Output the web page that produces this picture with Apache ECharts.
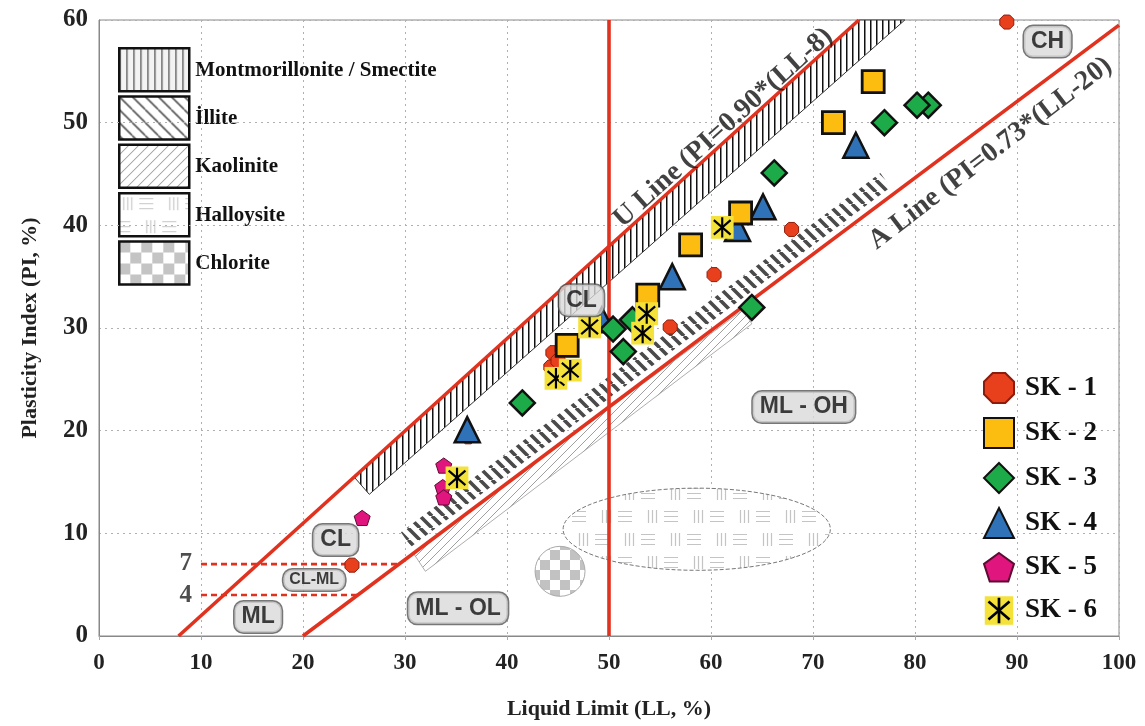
<!DOCTYPE html>
<html><head><meta charset="utf-8">
<script src="https://cdn.jsdelivr.net/npm/echarts@6/dist/echarts.min.js"></script>
<style>html,body{margin:0;padding:0;background:#fff}#c{width:1145px;height:726px}</style>
</head><body><div id="c"></div>
<script>
// ---------------- data ----------------
const seriesNames = ['SK - 1','SK - 2','SK - 3','SK - 4','SK - 5','SK - 6'];
const sk1 = [[89.0,59.8],[67.9,39.6],[60.3,35.2],[56.0,30.1],[44.5,27.6],[45.4,28.0],[44.3,26.2],[45.0,26.8],[36.2,19.4],[24.8,6.9]];
const sk2 = [[75.9,54.0],[72.0,50.0],[62.9,41.2],[58.0,38.1],[53.8,33.2],[45.9,28.3]];
const sk3 = [[81.3,51.7],[80.2,51.7],[77.0,50.0],[66.2,45.1],[64.0,32.0],[52.3,30.8],[50.4,29.9],[51.4,27.7],[41.5,22.7]];
const sk4 = [[74.2,47.8],[65.1,41.8],[62.6,39.7],[56.2,35.0],[49.3,30.8],[36.1,20.1]];
const sk5 = [[25.8,11.5],[33.8,16.6],[33.7,14.5],[33.8,13.5]];
const sk6 = [[35.1,15.4],[44.8,25.1],[46.2,25.9],[48.1,30.1],[53.3,29.5],[53.7,31.4],[61.1,39.8]];

const uLine = [[7.8,0],[74.5,60]];
const aLine = [[20,0],[100,59.5]];
const llLine = [[50,0],[50,60]];
const pi7Line = [[10,7],[29.4,7]];
const pi4Line = [[10,4],[25.4,4]];

const montBand = [[25.0,15.5],[74.5,60],[79.0,60],[26.5,13.8]];
const illiteBand = [[29.6,10.1],[76.6,45.1],[77.6,43.7],[30.6,8.7]];
const kaolBand = [[30.8,8.1],[63.2,31.8],[64.0,30.4],[32.0,6.3]];
const halloEllipse = [58.6,10.4,13.1,4.0];   // centre LL, centre PI, half-width LL, half-height PI
const chloriteCircle = [45.2,6.3,2.45];      // centre LL, centre PI, radius LL

const zoneLabels = [['CH',93.0,57.9],['CL',47.3,32.7],['ML - OH',69.1,22.3],['CL',23.2,9.35],['CL-ML',21.1,5.45],['ML',15.6,1.85],['ML - OL',35.2,2.7]];
const lineLabels = [['U Line (PI=0.90*(LL-8)',61.2,49.5,42],['A Line (PI=0.73*(LL-20)',87.4,47.0,37.5]];
const sideTicks = [['7',8.5,7.1],['4',8.5,3.9]];
const mineralNames = ['Montmorillonite / Smectite','İllite','Kaolinite','Halloysite','Chlorite'];

// ---------------- patterns ----------------
function pattern(w,h,draw){const c=document.createElement('canvas');c.width=w;c.height=h;const g=c.getContext('2d');draw(g);return {image:c,repeat:'repeat'};}
const vLines=(w,col,lw,bg)=>pattern(w,w,g=>{g.fillStyle=bg;g.fillRect(0,0,w,w);g.fillStyle=col;g.fillRect(0,0,lw,w);});
const diag=(w,col,lw,back,bg)=>pattern(w,w,g=>{g.fillStyle=bg;g.fillRect(0,0,w,w);g.strokeStyle=col;g.lineWidth=lw;g.beginPath();
  for(let k=-1;k<=1;k++){if(back){g.moveTo(k*w,0);g.lineTo(k*w+w,w);}else{g.moveTo(k*w,w);g.lineTo(k*w+w,0);}}g.stroke();});
const hallo=(col)=>pattern(46,46,g=>{g.fillStyle='#fff';g.fillRect(0,0,46,46);g.strokeStyle=col;g.lineWidth=1.2;g.beginPath();
  const block=(x0,y0,vert)=>{for(let s=0;s<3;s++){if(vert){const x=x0+1.5+s*4;g.moveTo(x,y0);g.lineTo(x,y0+13);}else{const y=y0+1.5+s*5;g.moveTo(x0,y);g.lineTo(x0+14,y);}}};
  for(const dx of [-46,0,46]){block(dx+3,4,true);block(dx+20,4,false);block(dx+26,27,true);block(dx+43,27,false);}
  g.stroke();});
const checker=(s,col)=>pattern(2*s,2*s,g=>{g.fillStyle='#fff';g.fillRect(0,0,2*s,2*s);g.fillStyle=col;g.fillRect(0,0,s,s);g.fillRect(s,s,s,s);});

const pMont = vLines(6,'#111',1.5,'#fff');
const pIll = diag(12,'#4a4a4a',3.6,true,'#fff');
const pKao = diag(9,'#888',0.8,false,'#fff');
const pHal = hallo('#c4c4c4');
const pChl = checker(10,'#c2c2c2');
const legendPatterns = [vLines(7,'#555',1.3,'#f3f3f3'), diag(13,'#555',1.6,true,'#fff'), diag(10,'#777',0.9,false,'#fff'), hallo('#c8c8c8'), checker(11,'#c4c4c4')];

// ---------------- symbols ----------------
const octagon = 'path://M29,0 L71,0 L100,29 L100,71 L71,100 L29,100 L0,71 L0,29 Z';
const pentagon = 'path://M50,0 L97.6,34.5 L79.4,90.5 L20.6,90.5 L2.4,34.5 Z';
const starSvg = "<svg xmlns='http://www.w3.org/2000/svg' width='40' height='40' viewBox='0 0 40 40'><rect x='1' y='1' width='38' height='38' fill='#f4e23a'/><g stroke='#000' stroke-width='3.6' stroke-linecap='butt'><line x1='20' y1='3' x2='20' y2='37'/><line x1='6' y1='8' x2='34' y2='32'/><line x1='34' y1='8' x2='6' y2='32'/></g></svg>";
const starSym = 'image://data:image/svg+xml;charset=utf-8,' + encodeURIComponent(starSvg);

const RED = '#e0321e';
const SERIF = '"Liberation Serif", "Times New Roman", serif';
const SANS = '"Liberation Sans", Arial, sans-serif';

function polySeries(points, fill, stroke, lw, z){
  return {type:'custom', coordinateSystem:'cartesian2d', silent:true, z:z, data:[[0,0]],
    renderItem:(p,api)=>({type:'polygon', shape:{points:points.map(q=>api.coord(q))}, style:{fill:fill, stroke:stroke, lineWidth:lw}})};
}
function lineSeries(data, dashed){
  return {type:'line', data:data, symbol:'none', silent:true, z:3, lineStyle:{color:RED, width:dashed?2.6:3.6, type:dashed?[6,4]:'solid'}};
}
function scat(name, data, symbol, size, color, bc, bw){
  return {type:'scatter', name:name, data:data, symbol:symbol, symbolSize:size, symbolKeepAspect:true, z:6,
    itemStyle:{color:color, borderColor:bc, borderWidth:bw, opacity:1}};
}

const chart = echarts.init(document.getElementById('c'), null, {renderer:'canvas'});
const option = {
  animation:false,
  backgroundColor:'#fff',
  grid:{left:99, right:26, top:20, bottom:90, show:true, borderColor:'#888', borderWidth:1},
  xAxis:{type:'value', min:0, max:100, interval:10,
    name:'Liquid Limit (LL, %)', nameLocation:'middle', nameGap:62,
    nameTextStyle:{fontFamily:SERIF, fontWeight:'bold', fontSize:22, color:'#222'},
    axisLine:{lineStyle:{color:'#888'}}, axisTick:{show:true, length:4, lineStyle:{color:'#aaa'}},
    axisLabel:{fontFamily:SERIF, fontWeight:'bold', fontSize:23, color:'#222', margin:16},
    splitLine:{show:true, lineStyle:{color:'#b0b0b0', type:[2,4], width:1}}},
  yAxis:{type:'value', min:0, max:60, interval:10,
    name:'Plasticity Index (PI, %)', nameLocation:'middle', nameGap:58,
    nameTextStyle:{fontFamily:SERIF, fontWeight:'bold', fontSize:22, color:'#222'},
    axisLine:{show:true, lineStyle:{color:'#888'}}, axisTick:{show:false},
    axisLabel:{fontFamily:SERIF, fontWeight:'bold', fontSize:25, color:'#222', margin:11},
    splitLine:{show:true, lineStyle:{color:'#b0b0b0', type:[2,4], width:1}}},
  legend:{data:seriesNames, orient:'vertical', left:978, top:367, itemWidth:30, itemHeight:30, itemGap:13,
    selectedMode:false, textStyle:{fontFamily:SERIF, fontWeight:'bold', fontSize:27, color:'#111', padding:[0,0,0,6]},
    itemStyle:{borderWidth:2}},
  graphic: mineralNames.map((n,i)=>({type:'group', left:118, top:47+i*48.3, silent:true, children:[
    {type:'rect', shape:{x:0,y:0,width:70,height:43}, style:{fill:legendPatterns[i], stroke:'#111', lineWidth:2.5}},
    {type:'text', x:76, y:22, style:{text:n, font:'bold 21px '+SERIF, fill:'#111', verticalAlign:'middle'}}]})),
  series:[
    {type:'custom', coordinateSystem:'cartesian2d', silent:true, z:1, data:[[0,0]],
      renderItem:(p,api)=>{const c=api.coord([halloEllipse[0],halloEllipse[1]]);const s=api.size([halloEllipse[2],halloEllipse[3]]);
        return {type:'ellipse', shape:{cx:c[0],cy:c[1],rx:s[0],ry:s[1]}, style:{fill:pHal, stroke:'#777', lineWidth:1, lineDash:[4,2]}};}},
    {type:'custom', coordinateSystem:'cartesian2d', silent:true, z:1, data:[[0,0]],
      renderItem:(p,api)=>{const c=api.coord([chloriteCircle[0],chloriteCircle[1]]);const s=api.size([chloriteCircle[2],0]);
        return {type:'circle', shape:{cx:c[0],cy:c[1],r:s[0]}, style:{fill:pChl, stroke:'#aaa', lineWidth:1}};}},
    polySeries(kaolBand, pKao, '#999', 0.8, 1),
    polySeries(illiteBand, pIll, null, 0, 2),
    polySeries(montBand, pMont, '#333', 1, 2),
    lineSeries(uLine,false), lineSeries(aLine,false), lineSeries(llLine,false),
    lineSeries(pi7Line,true), lineSeries(pi4Line,true),
    scat('SK - 1', sk1, octagon, 14, '#e8401c', '#8e1c0c', 1),
    scat('SK - 4', sk4, 'triangle', 25, '#2f72b8', '#111', 2.5),
    scat('SK - 2', sk2, 'rect', 22, '#fdbd10', '#111', 2.8),
    scat('SK - 3', sk3, 'diamond', 25, '#1dab49', '#111', 2.5),
    scat('SK - 5', sk5, pentagon, 16, '#e0157d', '#5d0b33', 1),
    scat('SK - 6', sk6, starSym, 24, '#f4e23a', '#f4e23a', 0),
    {type:'scatter', silent:true, z:8, symbolSize:1, itemStyle:{color:'rgba(0,0,0,0)'},
      data: zoneLabels.map(l=>({value:[l[1],l[2]], name:l[0], label:{fontSize: l[0]==='CL-ML'?16:23, padding: l[0]==='CL-ML'?[3,6,2,6]:[5,7,3,7]}})),
      label:{show:true, position:'inside', formatter:'{b}', fontFamily:SANS, fontWeight:'bold', color:'#111',
        backgroundColor:'#d9d9d9', borderColor:'#555', borderWidth:1.5, borderRadius:9}},
    {type:'scatter', silent:true, z:8, symbolSize:1, itemStyle:{color:'rgba(0,0,0,0)'},
      data: lineLabels.map(l=>({value:[l[1],l[2]], name:l[0], label:{rotate:l[3]}})),
      label:{show:true, position:'inside', formatter:'{b}', fontFamily:SERIF, fontWeight:'bold', fontSize:28, color:'#111'}},
    {type:'scatter', silent:true, z:8, symbolSize:1, itemStyle:{color:'rgba(0,0,0,0)'},
      data: sideTicks.map(l=>({value:[l[1],l[2]], name:l[0]})),
      label:{show:true, position:'inside', formatter:'{b}', fontFamily:SERIF, fontWeight:'bold', fontSize:25, color:'#222'}}
  ]
};
chart.setOption(option);
</script>
</body></html>
